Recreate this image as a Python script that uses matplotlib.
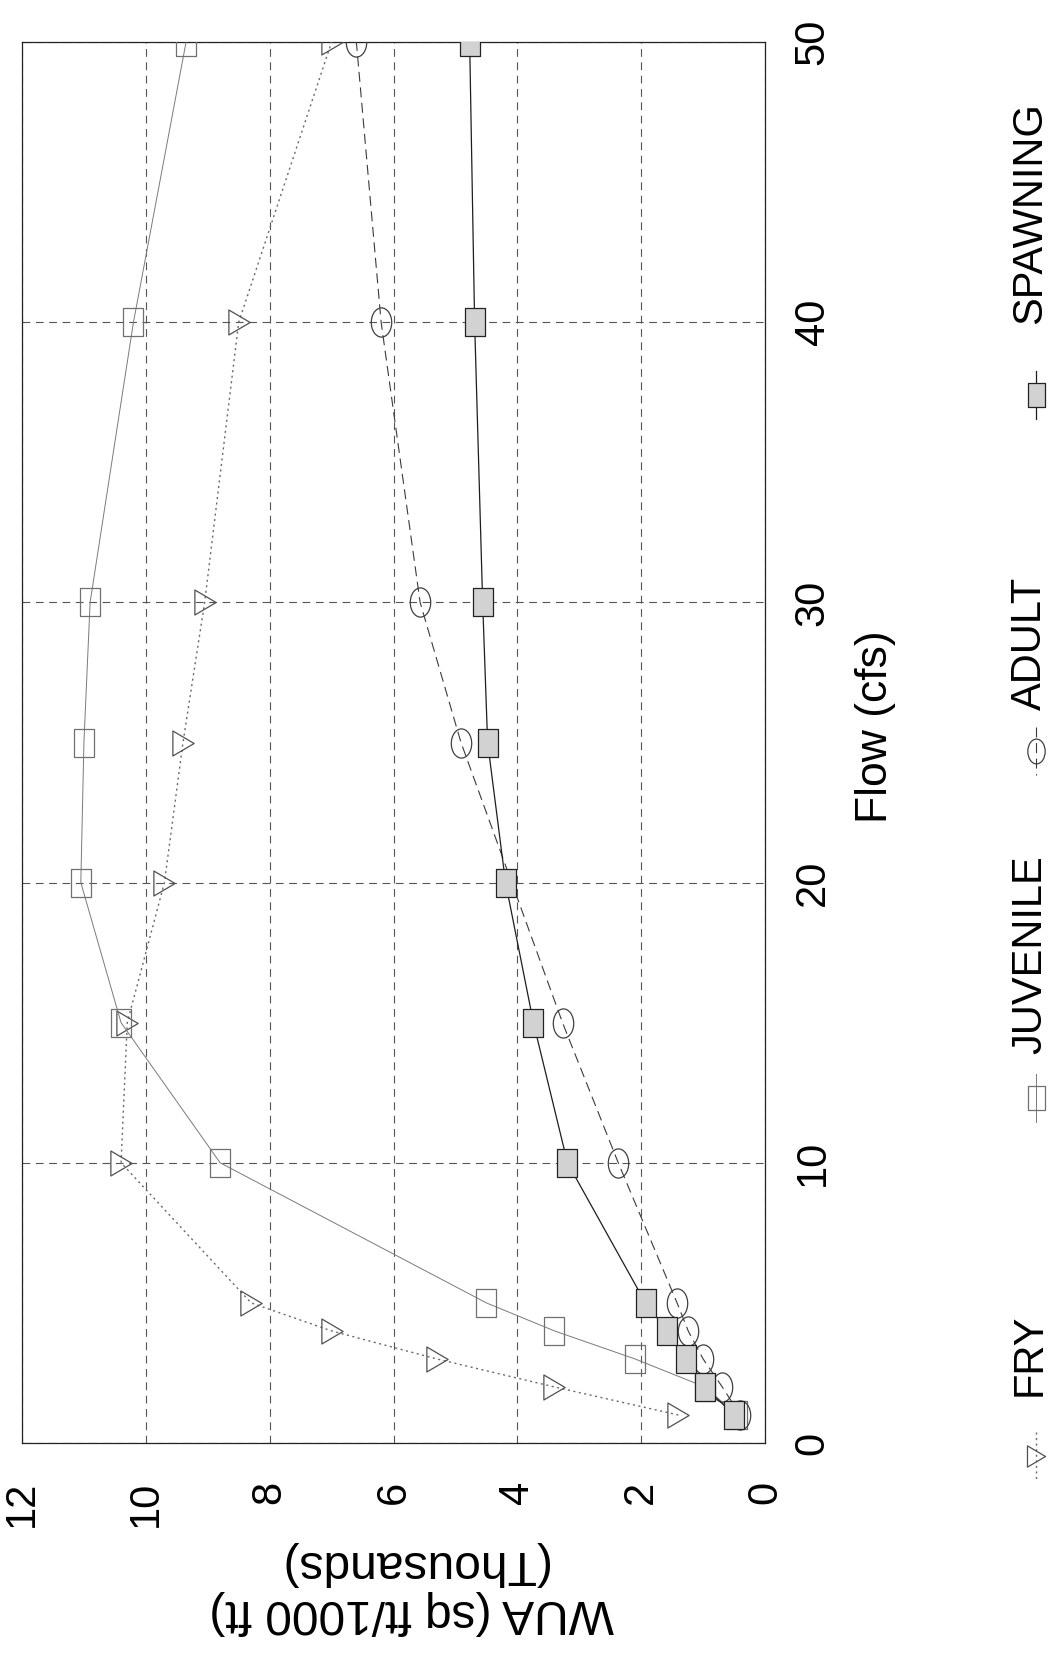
import matplotlib
matplotlib.use("Agg")
import matplotlib.pyplot as plt
from matplotlib.path import Path
from matplotlib.lines import Line2D

plt.rcParams['font.family'] = ['Liberation Sans', 'DejaVu Sans']

# Weighted usable area (thousands of sq ft / 1000 ft) versus flow (cfs)
flow = [1, 2, 3, 4, 5, 10, 15, 20, 25, 30, 40, 50]
flow_adult = [1, 2, 3, 4, 5, 10, 15, 25, 30, 40, 50]
wua_fry = [1.4, 3.4, 5.3, 7.0, 8.3, 10.4, 10.3, 9.7, 9.4, 9.05, 8.5, 7.0]
wua_juvenile = [0.45, 0.97, 2.1, 3.4, 4.5, 8.8, 10.4, 11.05, 11.0, 10.9, 10.2, 9.35]
wua_adult = [0.4, 0.69, 1.0, 1.24, 1.42, 2.37, 3.27, 4.91, 5.57, 6.2, 6.6]
wua_spawning = [0.5, 0.97, 1.27, 1.58, 1.93, 3.19, 3.74, 4.19, 4.48, 4.56, 4.69, 4.77]

series_names = ["FRY", "JUVENILE", "ADULT", "SPAWNING"]
flow_ticks = [0, 10, 20, 30, 40, 50]
wua_ticks = [0, 2, 4, 6, 8, 10, 12]
flow_label = "Flow (cfs)"
wua_label = "WUA (sq ft/1000 ft)\n(Thousands)"

W, H = 1059, 1653
fig = plt.figure(figsize=(W / 100, H / 100), dpi=100)


def fx(px):
    return px / W


def fy(py):
    return 1 - py / H


# page is laid out sideways: flow runs up the page, WUA runs right-to-left
left, right, top, bottom = 22, 765, 42, 1443
ax = fig.add_axes([fx(left), fy(bottom), (right - left) / W, (bottom - top) / H])
ax.set_xlim(12, 0)
ax.set_ylim(0, 50)


def rect_marker(w, h):
    verts = [(-w / 2, -h / 2), (w / 2, -h / 2), (w / 2, h / 2), (-w / 2, h / 2), (-w / 2, -h / 2)]
    codes = [Path.MOVETO, Path.LINETO, Path.LINETO, Path.LINETO, Path.CLOSEPOLY]
    return Path(verts, codes)


def ellipse_marker(w, h):
    c = Path.unit_circle()
    return Path(c.vertices * [w / 2, h / 2], c.codes)


def tri_marker(w, h):
    verts = [(-w / 2, -h / 2), (w / 2, 0), (-w / 2, h / 2), (-w / 2, -h / 2)]
    codes = [Path.MOVETO, Path.LINETO, Path.LINETO, Path.CLOSEPOLY]
    return Path(verts, codes)


m_tri = tri_marker(0.85, 1.0)
m_rect = rect_marker(0.72, 1.0)
m_ell = ellipse_marker(0.70, 1.0)

styles = {
    "FRY": dict(ls=(0, (1.5, 2.5)), color='#6a6a6a', lw=1.0, marker=m_tri, ms=18,
                mfc='none', mec='#505050', mew=0.9),
    "JUVENILE": dict(ls='-', color='#7a7a7a', lw=0.7, marker=m_rect, ms=20,
                     mfc='none', mec='#707070', mew=0.9),
    "ADULT": dict(ls=(0, (9, 5)), color='#3a3a3a', lw=0.8, marker=m_ell, ms=21,
                  mfc='none', mec='#404040', mew=0.9),
    "SPAWNING": dict(ls='-', color='#1e1e1e', lw=0.9, marker=m_rect, ms=20,
                     mfc='#d2d2d2', mec='#222222', mew=0.9),
}

ax.plot(wua_fry, flow, zorder=3, **styles["FRY"])
ax.plot(wua_juvenile, flow, zorder=3, **styles["JUVENILE"])
ax.plot(wua_adult, flow_adult, zorder=3, **styles["ADULT"])
ax.plot(wua_spawning, flow, zorder=4, **styles["SPAWNING"])

# grid and frame
ax.set_xticks(wua_ticks)
ax.set_yticks(flow_ticks)
ax.grid(True, ls=(0, (7, 5)), color='#555555', lw=0.8)
for s in ax.spines.values():
    s.set_linewidth(0.9)
    s.set_color('#222222')

ax.yaxis.tick_right()
ax.tick_params(axis='x', length=0, pad=27, labelsize=30, labelrotation=90)
ax.tick_params(axis='y', length=0, pad=20, labelsize=30, labelrotation=90)
for lab in ax.get_yticklabels():
    lab.set_verticalalignment('center')

# axis titles
fig.text(fx(875), fy(727), flow_label, rotation=90, ha='center', va='center', fontsize=32)
fig.text(fx(412), fy(1588), wua_label, rotation=180, ha='center', va='center',
         multialignment='center', fontsize=34.5, linespacing=1.1)

# legend along the right edge
text_y = {"FRY": 1355, "JUVENILE": 955, "ADULT": 643, "SPAWNING": 213}
mark_y = {"FRY": 1456, "JUVENILE": 1098, "ADULT": 751, "SPAWNING": 395}
lx_text, lx_mark = 1030, 1036
for name in series_names:
    st = styles[name]
    fig.text(fx(lx_text), fy(text_y[name]), name, rotation=90, ha='center', va='center',
             fontsize=30)
    my = mark_y[name]
    fig.add_artist(Line2D([fx(lx_mark)] * 2, [fy(my - 24), fy(my + 24)],
                          transform=fig.transFigure, ls=st['ls'], color=st['color'],
                          lw=st['lw']))
    fig.add_artist(Line2D([fx(lx_mark)], [fy(my)], transform=fig.transFigure, ls='none',
                          marker=st['marker'], ms=st['ms'] * 0.85, mfc=st['mfc'],
                          mec=st['mec'], mew=st['mew']))

fig.savefig("out.png", dpi=100, facecolor='white')
